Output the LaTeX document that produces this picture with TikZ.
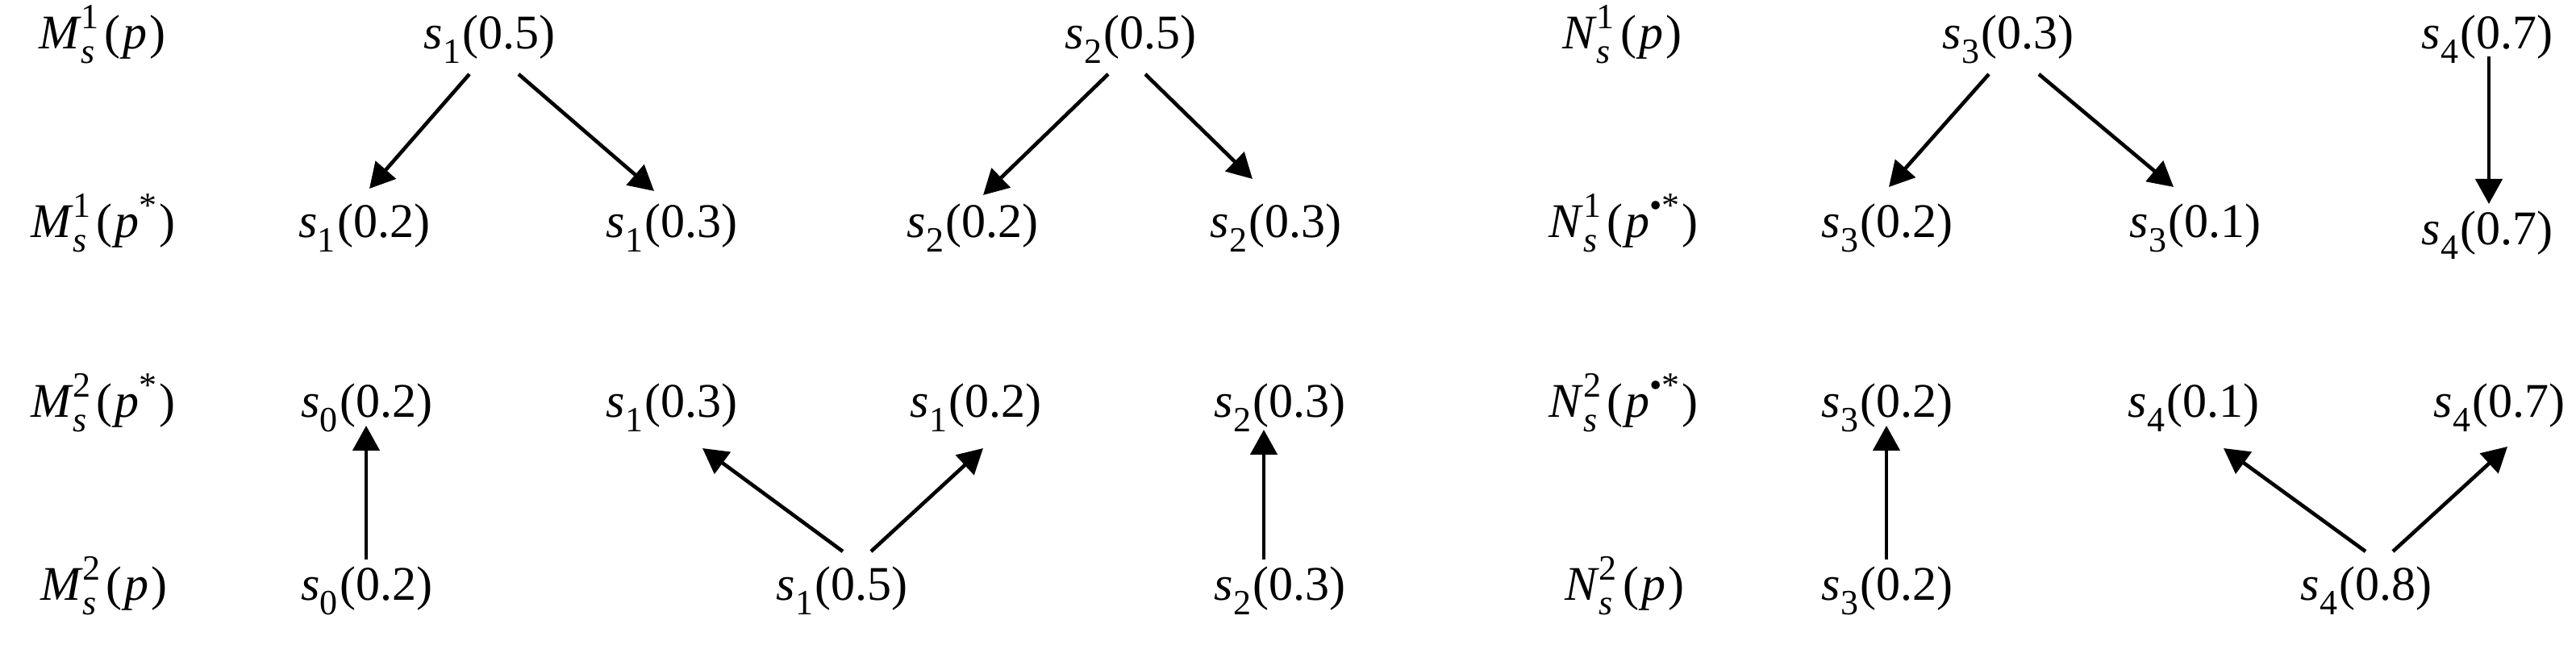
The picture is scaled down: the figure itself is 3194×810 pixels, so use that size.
\documentclass[tikz,border=0pt]{standalone}
\usepackage{fontspec}
\setmainfont{Liberation Serif}
\usetikzlibrary{arrows.meta,calc}
\newcommand\lo[1]{\raisebox{-0.3em}{\fontsize{11}{11}\selectfont #1}}
\newcommand\hi[1]{\raisebox{0.42em}{\fontsize{11}{11}\selectfont #1}}
\newcommand\sv[2]{\textit{s}\lo{#1}\kern0.04em(#2)}
\newcommand\ms[3]{\textit{#1}\rlap{\lo{\textit{s}}}\hi{#2}\kern0.12em(\kern0.05em\textit{p}#3\kern0.05em)}
\begin{document}
\begin{tikzpicture}[x=0.25pt,y=-0.25pt,
  lbl/.style={anchor=base,inner sep=0pt,font=\fontsize{15}{18}\selectfont},
  arr/.style={line width=1.15pt,-{Triangle[length=7.75pt,width=8.25pt]}}]
\useasboundingbox (0,0) rectangle (3194,810);
% row 1
\node[lbl] (r1l) at (127,61) {\ms{M}{1}{}};
\node[lbl] (a1) at (607,61) {\sv{1}{0.5}};
\node[lbl] (a2) at (1402,61) {\sv{2}{0.5}};
\node[lbl] (r1n) at (2011,61) {\ms{N}{1}{}};
\node[lbl] (a4) at (2490,61) {\sv{3}{0.3}};
\node[lbl] (a5) at (3084,61) {\sv{4}{0.7}};
% row 2
\node[lbl] (r2l) at (128,295) {\ms{M}{1}{\hi{*}}};
\node[lbl] (b1) at (452,295) {\sv{1}{0.2}};
\node[lbl] (b2) at (833,295) {\sv{1}{0.3}};
\node[lbl] (b3) at (1206,295) {\sv{2}{0.2}};
\node[lbl] (b4) at (1582,295) {\sv{2}{0.3}};
\node[lbl] (r2n) at (2013,295) {\ms{N}{1}{\hi{•*}}};
\node[lbl] (b7) at (2340,295) {\sv{3}{0.2}};
\node[lbl] (b8) at (2722,295) {\sv{3}{0.1}};
\node[lbl] (b9) at (3084,304) {\sv{4}{0.7}};
% row 3
\node[lbl] (r3l) at (128,518) {\ms{M}{2}{\hi{*}}};
\node[lbl] (c2) at (455,518) {\sv{0}{0.2}};
\node[lbl] (c3) at (833,518) {\sv{1}{0.3}};
\node[lbl] (c4) at (1210,518) {\sv{1}{0.2}};
\node[lbl] (c5) at (1587,518) {\sv{2}{0.3}};
\node[lbl] (r3n) at (2013,518) {\ms{N}{2}{\hi{•*}}};
\node[lbl] (c7) at (2340,518) {\sv{3}{0.2}};
\node[lbl] (c8) at (2720,518) {\sv{4}{0.1}};
\node[lbl] (c9) at (3099,518) {\sv{4}{0.7}};
% row 4
\node[lbl] (r4l) at (129,745) {\ms{M}{2}{}};
\node[lbl] (d2) at (455,745) {\sv{0}{0.2}};
\node[lbl] (d3) at (1044,745) {\sv{1}{0.5}};
\node[lbl] (d4) at (1587,745) {\sv{2}{0.3}};
\node[lbl] (r4n) at (2014,745) {\ms{N}{2}{}};
\node[lbl] (d6) at (2340,745) {\sv{3}{0.2}};
\node[lbl] (d7) at (2934,745) {\sv{4}{0.8}};
% arrows top
\draw[arr] ($(a1.base)+(-25,31)$) -- ($(b1.base)+(6,-61)$);
\draw[arr] ($(a1.base)+(36,31)$) -- ($(b2.base)+(-22,-58)$);
\draw[arr] ($(a2.base)+(-28,31)$) -- ($(b3.base)+(13,-53)$);
\draw[arr] ($(a2.base)+(18,31)$) -- ($(b4.base)+(-29,-73)$);
\draw[arr] ($(a4.base)+(-24,31)$) -- ($(b7.base)+(2,-63)$);
\draw[arr] ($(a4.base)+(38,31)$) -- ($(b8.base)+(-27,-63)$);
\draw[arr] ($(a5.base)+(2,9)$) -- ($(b9.base)+(2,-51)$);
% arrows bottom
\draw[arr] ($(d2.base)+(-1,-51)$) -- ($(c2.base)+(-1,10)$);
\draw[arr] ($(d3.base)+(1,-61)$) -- ($(c3.base)+(38,38)$);
\draw[arr] ($(d3.base)+(36,-61)$) -- ($(c4.base)+(9,38)$);
\draw[arr] ($(d4.base)+(-20,-51)$) -- ($(c5.base)+(-20,15)$);
\draw[arr] ($(d6.base)+(-1,-51)$) -- ($(c7.base)+(-1,10)$);
\draw[arr] ($(d7.base)+(-1,-61)$) -- ($(c8.base)+(37,38)$);
\draw[arr] ($(d7.base)+(33,-61)$) -- ($(c9.base)+(10,36)$);
\end{tikzpicture}
\end{document}
